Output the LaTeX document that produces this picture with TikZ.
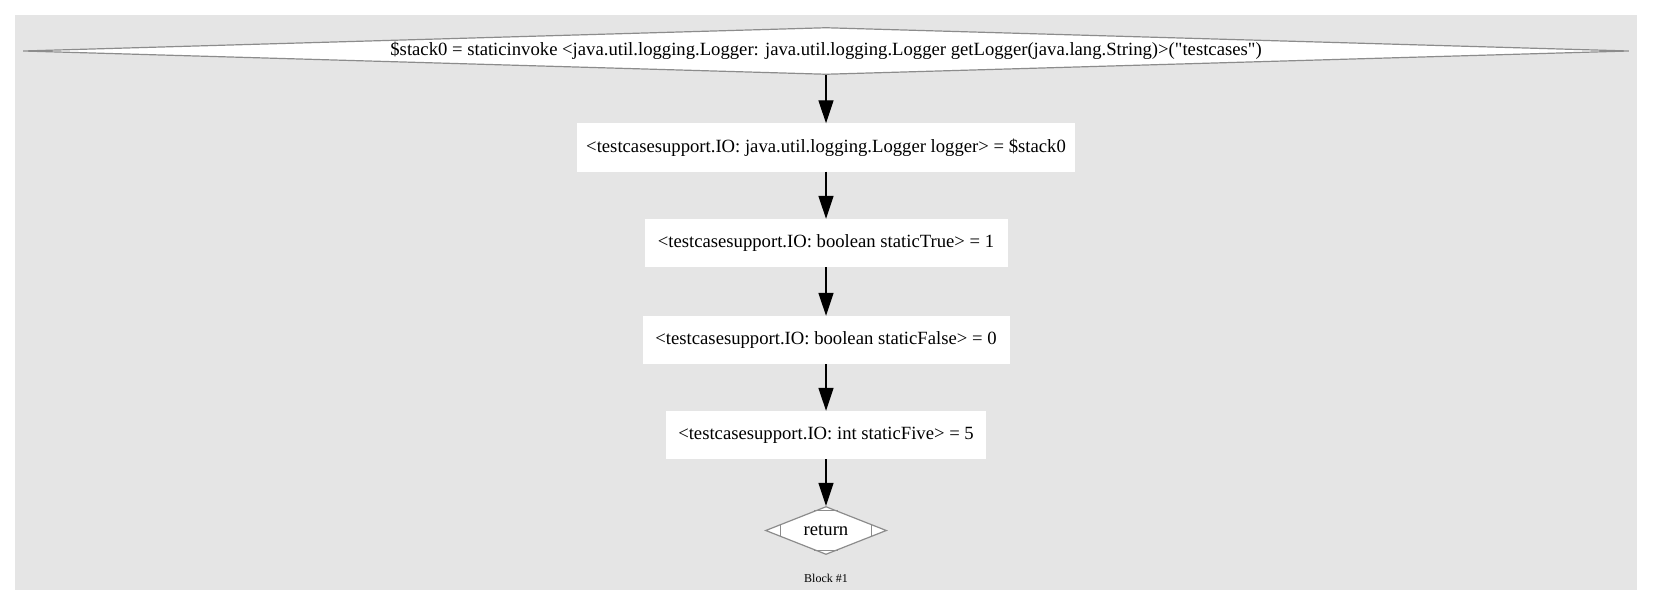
\documentclass[tikz,border=0pt]{standalone}
\usepackage{fontspec}
\setmainfont{Liberation Serif}
\newfontfamily\serifraw{Liberation Serif}
\usetikzlibrary{shapes.geometric,arrows.meta,calc}
\definecolor{bggray}{HTML}{E5E5E5}
\definecolor{edgegray}{HTML}{8C8C8C}
\begin{document}
\begin{tikzpicture}[x=1pt,y=-1pt,
  txt/.style={font=\serifraw\fontsize{18.67}{22}\selectfont},
  stmt/.style={txt, rectangle, fill=white, draw=none, inner sep=0pt, minimum height=48pt},
  cond/.style={txt, diamond, fill=white, draw=edgegray, line width=1.2pt, inner sep=0pt},
  arr/.style={-{Triangle[length=23pt,width=15pt]}, line width=1.3pt, black}
]
\useasboundingbox (0,0) rectangle (1653,607);
\fill[bggray] (15,15) rectangle (1637,590);

\node[cond, aspect=34, minimum width=1606pt, minimum height=47pt] (d0) at (826,51)
  {\$stack0 = staticinvoke <java.util.logging.Logger: java.util.logging.Logger getLogger(java.lang.String)>("testcases")};
\node[stmt, minimum width=498pt] (b1) at (826,147.5)
  {<testcasesupport.IO: java.util.logging.Logger logger> = \$stack0};
\node[stmt, minimum width=363pt] (b2) at (826,243)
  {<testcasesupport.IO: boolean staticTrue> = 1};
\node[stmt, minimum width=367pt] (b3) at (826,340)
  {<testcasesupport.IO: boolean staticFalse> = 0};
\node[stmt, minimum width=320pt] (b4) at (826,435)
  {<testcasesupport.IO: int staticFive> = 5};
\node[cond, aspect=2.5, minimum width=121pt, minimum height=48pt] (r) at (826,530.5) {return};
\draw[edgegray, line width=1.2pt]
  ($(r.west)!0.26!(r.north)$) -- ($(r.west)!0.26!(r.south)$)
  ($(r.east)!0.26!(r.north)$) -- ($(r.east)!0.26!(r.south)$)
  ($(r.north)!0.2!(r.west)$) -- ($(r.north)!0.2!(r.east)$)
  ($(r.south)!0.2!(r.west)$) -- ($(r.south)!0.2!(r.east)$);
\node[font=\serifraw\fontsize{12}{14}\selectfont, inner sep=0pt] (lbl) at (826,578) {Block \#1};

\draw[arr] (d0.south) -- (b1.north);
\draw[arr] (b1.south) -- (b2.north);
\draw[arr] (b2.south) -- (b3.north);
\draw[arr] (b3.south) -- (b4.north);
\draw[arr] (b4.south) -- (r.north);
\end{tikzpicture}
\end{document}
